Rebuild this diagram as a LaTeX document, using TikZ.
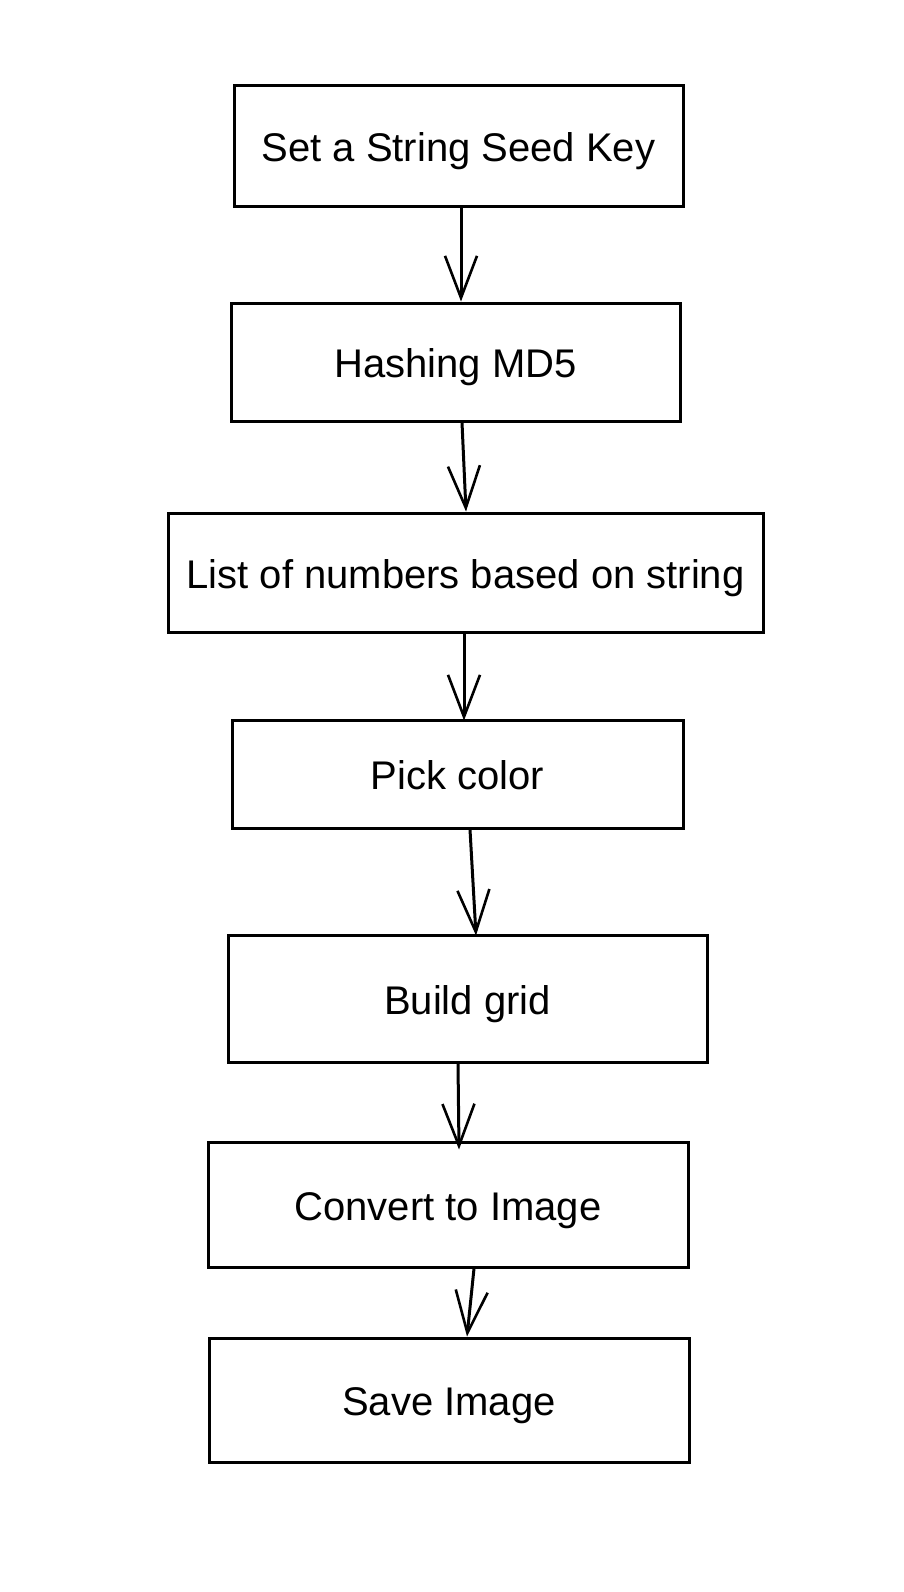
\documentclass[tikz,border=0pt]{standalone}
\usepackage{fontspec}
\setmainfont{Liberation Sans}
\usetikzlibrary{arrows.meta,calc}
\tikzset{
  box/.style={draw=black, line width=3pt, rectangle, inner sep=0pt,
    font=\fontsize{40}{47}\selectfont, text height=31pt, text depth=0pt},
  flow/.style={draw=black, line width=3pt,
    -{Straight Barb[length=42pt,width=32pt,line width=2.6pt]}}
}
\begin{document}
\begin{tikzpicture}[x=1pt,y=-1pt]
\useasboundingbox (0,0) rectangle (904,1592);
\fill[white] (0,0) rectangle (904,1592);
\node[box, minimum width=449pt, minimum height=120pt] (n1) at (458.5,146) {Set a String Seed Key};
\node[box, minimum width=449pt, minimum height=118pt] (n2) at (455.5,362) {Hashing MD5};
\node[box, minimum width=595pt, minimum height=119pt] (n3) at (465.5,572.5) {List of numbers based on string};
\node[box, minimum width=451pt, minimum height=108pt] (n4) at (457.5,774) {Pick color};
\node[box, minimum width=479pt, minimum height=127pt] (n5) at (467.5,998.5) {Build grid};
\node[box, minimum width=480pt, minimum height=125pt] (n6) at (448,1204.5) {Convert to Image};
\node[box, minimum width=480pt, minimum height=124pt] (n7) at (449,1400) {Save Image};
\draw[flow] ([xshift=2.5pt]n1.south) -- ([xshift=5.5pt]n2.north);
\draw[flow] ([xshift=6.5pt]n2.south) -- ([xshift=0.5pt]n3.north);
\draw[flow] ([xshift=-1.5pt]n3.south) -- ([xshift=6.5pt,yshift=-2pt]n4.north);
\draw[flow] ([xshift=12.5pt]n4.south) -- ([xshift=8.5pt,yshift=-2pt]n5.north);
\draw[flow] ([xshift=-9.5pt]n5.south) -- ([xshift=11pt,yshift=-9pt]n6.north);
\draw[flow] ([xshift=26pt]n6.south) -- ([xshift=18pt]n7.north);
\end{tikzpicture}
\end{document}
